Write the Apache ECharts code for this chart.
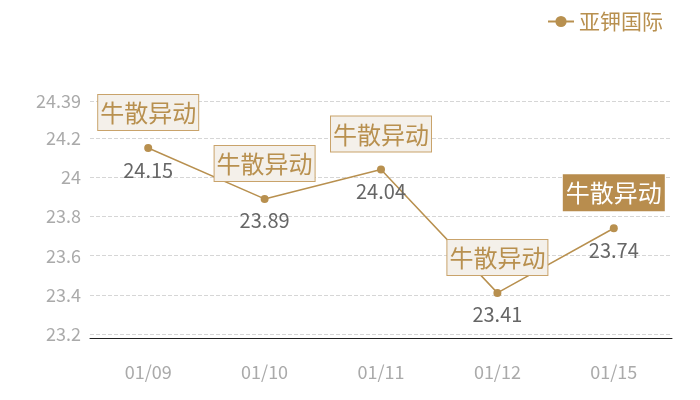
<!DOCTYPE html>
<html><head><meta charset="utf-8">
<script src="https://cdn.jsdelivr.net/npm/echarts@6/dist/echarts.min.js"></script>
<style>html,body{margin:0;padding:0;background:#fff}#c{width:700px;height:400px}</style>
</head><body><div id="c"></div>
<script>
const categories = ['01/09','01/10','01/11','01/12','01/15'];
const prices = [24.15, 23.89, 24.04, 23.41, 23.74];
const tagText = ['牛散异动','牛散异动','牛散异动','牛散异动','牛散异动'];
const highlightIndex = 4;
const seriesName = '亚钾国际';

const gold = '#b8904f';
const chart = echarts.init(document.getElementById('c'));
const tagData = prices.map((v, i) => {
  const item = { value: v, name: tagText[i] };
  if (i === highlightIndex) {
    item.label = { backgroundColor: '#b88d4e', borderColor: '#b88d4e', color: '#fff' };
  }
  return item;
});
chart.setOption({
  animation: false,
  textStyle: { fontFamily: 'Noto Sans CJK SC' },
  legend: {
    right: 32, top: 6, itemWidth: 26, itemHeight: 14, itemGap: 6,
    textStyle: { color: gold, fontSize: 21, fontFamily: 'Noto Sans CJK SC' },
    data: [seriesName]
  },
  grid: { left: 90, right: 28, top: 101, bottom: 66 },
  xAxis: {
    type: 'category', data: categories, boundaryGap: true, offset: 4,
    axisLine: { lineStyle: { color: '#222', width: 1 } },
    axisTick: { show: false },
    axisLabel: { color: '#aaa', fontSize: 18, margin: 25, fontFamily: 'Noto Sans CJK SC' }
  },
  yAxis: {
    type: 'value', min: 23.2, max: 24.39, interval: 0.2,
    axisLine: { show: false }, axisTick: { show: false },
    axisLabel: { color: '#aaa', fontSize: 18, margin: 9, fontFamily: 'Noto Sans CJK SC', showMaxLabel: true },
    splitLine: { lineStyle: { color: '#d6d6d6', type: 'dashed' } }
  },
  series: [
    {
      name: seriesName, type: 'line', data: prices,
      symbol: 'circle', symbolSize: 8,
      itemStyle: { color: gold }, lineStyle: { color: gold, width: 1.5 },
      label: { show: true, position: 'bottom', distance: 8, color: '#666', fontSize: 20, fontFamily: 'Noto Sans CJK SC' },
      z: 2
    },
    {
      name: 'tags', type: 'scatter', data: tagData, symbolSize: 0,
      itemStyle: { opacity: 1 },
      label: {
        show: true, position: 'top', distance: 18,
        formatter: p => p.name,
        color: gold, fontSize: 24, lineHeight: 28, fontFamily: 'Noto Sans CJK SC',
        backgroundColor: '#f4f0ea', borderColor: '#c9a36b', borderWidth: 1,
        padding: [4, 2, 3, 2]
      },
      z: 5, silent: true
    }
  ]
});
</script></body></html>
